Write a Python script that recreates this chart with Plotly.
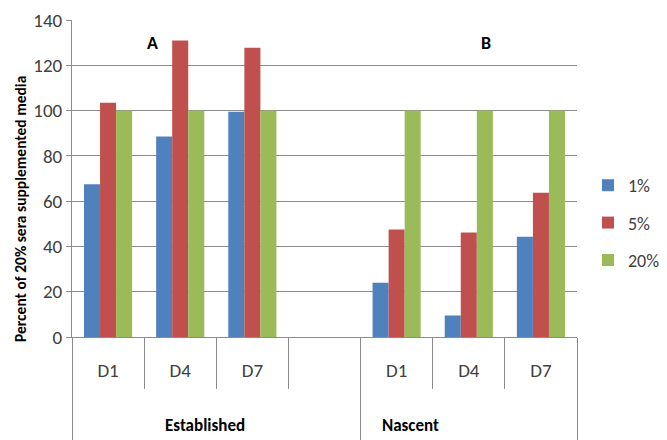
import plotly.graph_objects as go

categories = ["D1", "D4", "D7", "", "D1", "D4", "D7"]
group_names = ["Established", "Nascent"]
series_names = ["1%", "5%", "20%"]
vals_1 = [67.5, 88.5, 99.5, None, 24, 9.5, 44.3]
vals_5 = [103.5, 131, 127.7, None, 47.5, 46.2, 63.7]
vals_20 = [100, 100, 100, None, 100, 100, 100]
colors = ["#4F81BD", "#C0504D", "#9BBB59"]
y_title = "Percent of 20% sera supplemented media"

FONT = "Carlito, Lato, Liberation Sans, Arial, sans-serif"
GRAY = "#8C8C8C"
xpos = list(range(len(categories)))

W, H = 667, 440
ML, MR, MT, MB = 72, 90, 20, 103
PW = W - ML - MR
PH = H - MT - MB

fig = go.Figure()
for name, vals, col in zip(series_names, [vals_1, vals_5, vals_20], colors):
    fig.add_trace(go.Bar(x=xpos, y=vals, name=name, marker_color=col,
                         marker_line_width=0, legendgroup=name))

rng = [-0.5, len(categories) - 0.5]
fig.update_layout(
    width=W, height=H,
    margin=dict(l=ML, r=MR, t=MT, b=MB, autoexpand=False),
    paper_bgcolor="white", plot_bgcolor="white",
    font=dict(family=FONT, color="#404040"),
    barmode="group", bargap=0.333, bargroupgap=0,
    showlegend=True,
    legend=dict(xref="container", yref="container", x=588 / W, y=1 - 167 / H,
                xanchor="left", yanchor="top",
                font=dict(size=18, color="#404040"), tracegroupgap=11,
                itemwidth=30, bgcolor="rgba(0,0,0,0)"),
    xaxis=dict(range=rng, tickvals=xpos, ticktext=categories, ticks="",
               showgrid=False, showline=True, linecolor=GRAY, linewidth=1,
               tickfont=dict(size=19, color="#404040"), ticklabelstandoff=16,
               zeroline=False, automargin=False),
    xaxis2=dict(range=rng, overlaying="x", matches="x", anchor="y", side="bottom",
                tickvals=[0.5, 1.5, 2.5, 4.5, 5.5], ticks="outside", ticklen=51,
                tickcolor=GRAY, tickwidth=1, showticklabels=False, showgrid=False,
                zeroline=False, showline=False, automargin=False),
    xaxis3=dict(range=rng, overlaying="x", matches="x", anchor="y", side="bottom",
                tickvals=[-0.5, 3.5, 6.5], ticks="outside", ticklen=105,
                tickcolor=GRAY, tickwidth=1, showticklabels=False, showgrid=False,
                zeroline=False, showline=False, automargin=False),
    yaxis=dict(range=[0, 140], tickvals=list(range(0, 141, 20)), ticks="outside",
               ticklen=5, tickcolor=GRAY, showline=True, linecolor=GRAY,
               gridcolor=GRAY, gridwidth=1, zeroline=False, automargin=False,
               tickfont=dict(size=19, color="#404040")),
)

# invisible traces so the overlay axes render
fig.add_trace(go.Scatter(x=[None], y=[None], xaxis="x2", showlegend=False, hoverinfo="skip"))
fig.add_trace(go.Scatter(x=[None], y=[None], xaxis="x3", showlegend=False, hoverinfo="skip"))

# y-axis title
fig.add_annotation(x=(20 - ML) / PW, xref="paper", y=(337 - 209) / PH, yref="paper",
                   text="<b>" + y_title + "</b>", textangle=-90, showarrow=False,
                   xanchor="center", yanchor="middle",
                   font=dict(size=15.5, color="#000000"))

fig.add_annotation(x=0.62, y=130, text="<b>A</b>", showarrow=False,
                   font=dict(size=18, color="#000000"))
fig.add_annotation(x=5.24, y=130, text="<b>B</b>", showarrow=False,
                   font=dict(size=18, color="#000000"))
fig.add_annotation(x=1.34, xref="x", y=-(425 - 337) / PH, yref="paper", yanchor="middle",
                   text="<b>" + group_names[0] + "</b>",
                   showarrow=False, font=dict(size=17, color="#000000"))
fig.add_annotation(x=4.19, xref="x", y=-(425 - 337) / PH, yref="paper", yanchor="middle",
                   text="<b>" + group_names[1] + "</b>",
                   showarrow=False, font=dict(size=17, color="#000000"))

fig.write_html("out.html", config={"displayModeBar": False},
               post_script="document.body.style.margin='0';document.body.style.overflow='hidden';")
